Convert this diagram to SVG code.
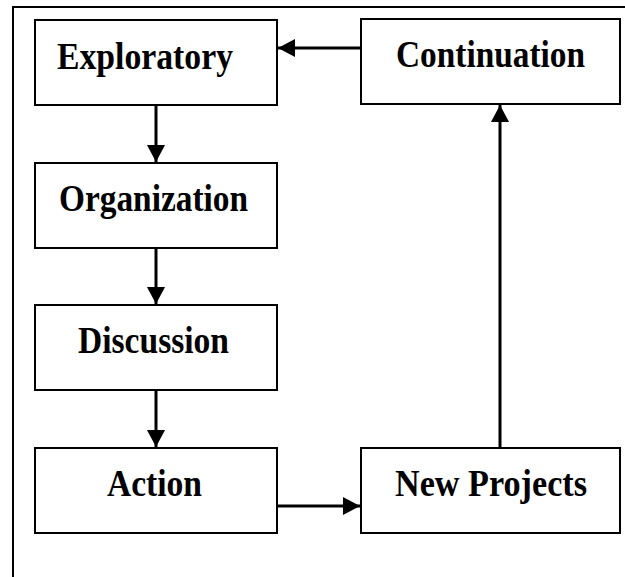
<svg xmlns="http://www.w3.org/2000/svg" width="625" height="577" viewBox="0 0 625 577">
<style>
.box{fill:#fff;stroke:#000;stroke-width:2}
.lbl{font-family:"Liberation Serif","Times New Roman",serif;font-weight:bold;font-size:38.5px;fill:#000}
.con{stroke:#000;stroke-width:3;fill:none}
.frame{stroke:#000;stroke-width:2;fill:none}
</style>
<defs>
<marker id="ah" markerUnits="userSpaceOnUse" markerWidth="18" markerHeight="18" refX="17" refY="9" orient="auto">
<path d="M0,0 L17,9 L0,18 Z" fill="#000"/>
</marker>
</defs>
<rect width="625" height="577" fill="#fff"/>
<path class="frame" d="M13,577 L13,7 L625,7"/>
<g id="exploratory"><rect class="box" x="35" y="20" width="242" height="85"/><text class="lbl" x="57" y="69" textLength="176" lengthAdjust="spacingAndGlyphs">Exploratory</text></g>
<g id="continuation"><rect class="box" x="361" y="19" width="259" height="85"/><text class="lbl" x="396" y="67" textLength="189" lengthAdjust="spacingAndGlyphs">Continuation</text></g>
<g id="organization"><rect class="box" x="35" y="163" width="242" height="85"/><text class="lbl" x="59" y="211" textLength="189" lengthAdjust="spacingAndGlyphs">Organization</text></g>
<g id="discussion"><rect class="box" x="35" y="305" width="242" height="85"/><text class="lbl" x="78" y="353" textLength="151" lengthAdjust="spacingAndGlyphs">Discussion</text></g>
<g id="action"><rect class="box" x="35" y="448" width="242" height="85"/><text class="lbl" x="107" y="496" textLength="95" lengthAdjust="spacingAndGlyphs">Action</text></g>
<g id="newprojects"><rect class="box" x="361" y="448" width="259" height="85"/><text class="lbl" x="395" y="496" textLength="192" lengthAdjust="spacingAndGlyphs">New Projects</text></g>
<g id="connectors">
<line class="con" x1="361" y1="48" x2="278" y2="48" marker-end="url(#ah)"/>
<line class="con" x1="156" y1="105" x2="156" y2="162" marker-end="url(#ah)"/>
<line class="con" x1="156" y1="248" x2="156" y2="304" marker-end="url(#ah)"/>
<line class="con" x1="156" y1="390" x2="156" y2="447" marker-end="url(#ah)"/>
<line class="con" x1="277" y1="506" x2="360" y2="506" marker-end="url(#ah)"/>
<line class="con" x1="500" y1="448" x2="500" y2="105" marker-end="url(#ah)"/>
</g>
</svg>
